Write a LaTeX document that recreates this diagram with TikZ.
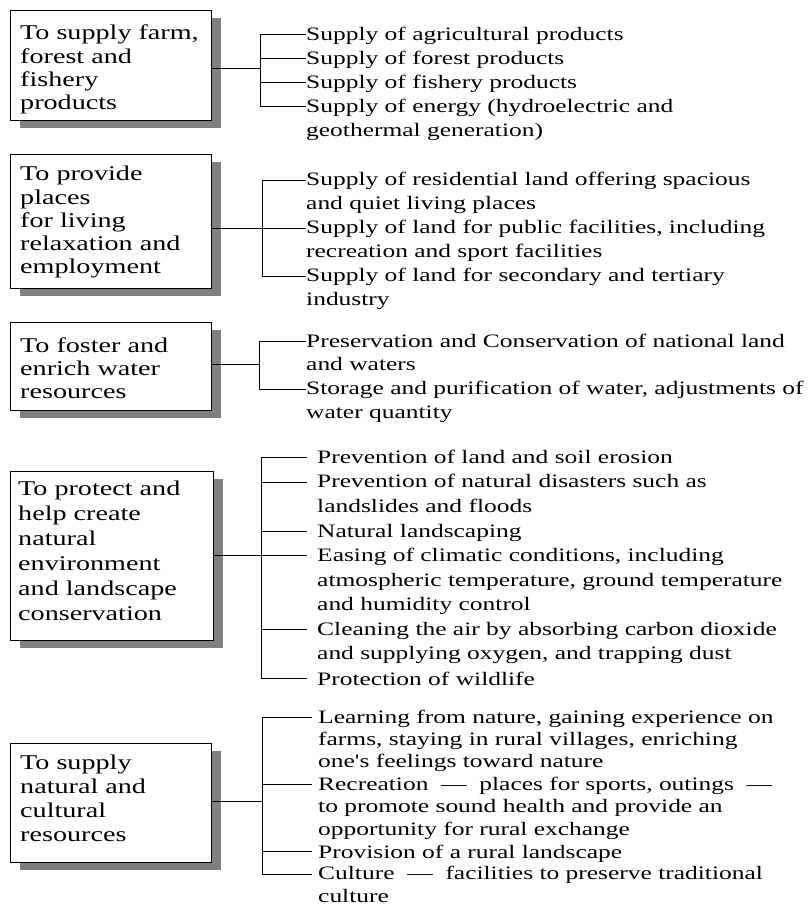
\documentclass[tikz,border=0pt]{standalone}
\usepackage{fontspec}
\setmainfont{Liberation Serif}[FakeStretch=1.34, Ligatures=TeXOff]
\usetikzlibrary{shadows}
\tikzset{
  box/.style={draw=black, line width=0.9pt, fill=white, anchor=north west, inner sep=0pt,
    drop shadow={shadow xshift=10pt, shadow yshift=-8pt, fill=black!50, opacity=1}},
  boxtext/.style={anchor=north west, align=left, inner sep=0pt,
    execute at begin node={\rule{0pt}{17pt}}},
  item/.style={anchor=north west, align=left, inner sep=0pt,
    execute at begin node={\rule{0pt}{14pt}}},
  link/.style={line width=0.9pt, black},
}
\newcommand{\bfnt}[1]{\fontsize{21}{#1}\selectfont}
\newcommand{\ifnt}[1]{\fontsize{19}{#1}\selectfont}
% branch: #1 junction, #2 item node, #3 gap before text
\newcommand{\branch}[3]{%
  \coordinate (#2p) at ([xshift=-#3pt,yshift=-8pt]#2.north west);
  \draw[link] (#1 |- #2p) -- (#2p);}
\begin{document}
\begin{tikzpicture}[x=1pt, y=-1pt]
\useasboundingbox (0,0) rectangle (808,905);

% ---------- Box 1 ----------
\node[box, minimum width=201pt, minimum height=110pt] (B1) at (10,10) {};
\node[boxtext, font=\bfnt{23.3}] (T1) at (20,25) {To supply farm,\\forest and\\fishery\\products};
\node[item, font=\ifnt{24}] (I11) at (306,26.5) {Supply of agricultural products};
\node[item, font=\ifnt{24}] (I12) at (306,50.5) {Supply of forest products};
\node[item, font=\ifnt{24}] (I13) at (306,74.5) {Supply of fishery products};
\node[item, font=\ifnt{24}] (I14) at (306,98.5) {Supply of energy (hydroelectric and\\geothermal generation)};
\coordinate (J1) at (260,68);
\draw[link] (J1 -| B1.east) -- (J1);
\branch{J1}{I11}{0}\branch{J1}{I12}{0}\branch{J1}{I13}{0}\branch{J1}{I14}{0}
\draw[link] (J1 |- I11p) -- (J1 |- I14p);

% ---------- Box 2 ----------
\node[box, minimum width=201pt, minimum height=134pt] (B2) at (10,154) {};
\node[boxtext, font=\bfnt{23.25}] (T2) at (20,166) {To provide\\places\\for living\\relaxation and\\employment};
\node[item, font=\ifnt{24}] (I21) at (306,172) {Supply of residential land offering spacious\\and quiet living places};
\node[item, font=\ifnt{24}] (I22) at (306,220) {Supply of land for public facilities, including\\recreation and sport facilities};
\node[item, font=\ifnt{24}] (I23) at (306,268) {Supply of land for secondary and tertiary\\industry};
\coordinate (J2) at (262,228);
\draw[link] (J2 -| B2.east) -- (J2);
\branch{J2}{I21}{0}\branch{J2}{I22}{0}\branch{J2}{I23}{0}
\draw[link] (J2 |- I21p) -- (J2 |- I23p);

% ---------- Box 3 ----------
\node[box, minimum width=201pt, minimum height=88pt] (B3) at (10,322) {};
\node[boxtext, font=\bfnt{23}] (T3) at (20,338) {To foster and\\enrich water\\resources};
\node[item, font=\ifnt{23.7}] (I31) at (306,333.5) {Preservation and Conservation of national land\\and waters};
\node[item, font=\ifnt{23.7}] (I32) at (306,381) {Storage and purification of water, adjustments of\\water quantity};
\coordinate (J3) at (259,364);
\draw[link] (J3 -| B3.east) -- (J3);
\branch{J3}{I31}{0}\branch{J3}{I32}{0}
\draw[link] (J3 |- I31p) -- (J3 |- I32p);

% ---------- Box 4 ----------
\node[box, minimum width=203pt, minimum height=169pt] (B4) at (10,471) {};
\node[boxtext, font=\bfnt{25}] (T4) at (18,480.5) {To protect and\\help create\\natural\\environment\\and landscape\\conservation};
\node[item, font=\ifnt{24.6}] (I41) at (317,449.5) {Prevention of land and soil erosion};
\node[item, font=\ifnt{24.6}] (I42) at (317,474.1) {Prevention of natural disasters such as\\landslides and floods};
\node[item, font=\ifnt{24.6}] (I43) at (317,523.3) {Natural landscaping};
\node[item, font=\ifnt{24.6}] (I44) at (317,547.9) {Easing of climatic conditions, including\\atmospheric temperature, ground temperature\\and humidity control};
\node[item, font=\ifnt{24.6}] (I45) at (317,621.7) {Cleaning the air by absorbing carbon dioxide\\and supplying oxygen, and trapping dust};
\node[item, font=\ifnt{24.6}] (I46) at (317,670.9) {Protection of wildlife};
\coordinate (J4) at (261,555.9);
\draw[link] (J4 -| B4.east) -- (J4);
\branch{J4}{I41}{10}\branch{J4}{I42}{10}\branch{J4}{I43}{10}\branch{J4}{I44}{10}\branch{J4}{I45}{10}\branch{J4}{I46}{10}
\draw[link] (J4 |- I41p) -- (J4 |- I46p);

% ---------- Box 5 ----------
\node[box, minimum width=201pt, minimum height=119pt] (B5) at (10,743) {};
\node[boxtext, font=\bfnt{24}] (T5) at (20,755) {To supply\\natural and\\cultural\\resources};
\node[item, font=\ifnt{22.4}] (I51) at (318,709.5) {Learning from nature, gaining experience on\\farms, staying in rural villages, enriching\\one's feelings toward nature};
\node[item, font=\ifnt{22.4}] (I52) at (318,776.7) {Recreation \ — \ places for sports, outings \ —\\to promote sound health and provide an\\opportunity for rural exchange};
\node[item, font=\ifnt{22.4}] (I53) at (318,843.9) {Provision of a rural landscape};
\node[item, font=\ifnt{22.4}] (I54) at (318,866.3) {Culture \ — \ facilities to preserve traditional\\culture};
\coordinate (J5) at (262,801);
\draw[link] (J5 -| B5.east) -- (J5);
\branch{J5}{I51}{6}\branch{J5}{I52}{6}\branch{J5}{I53}{6}\branch{J5}{I54}{6}
\draw[link] (J5 |- I51p) -- (J5 |- I54p);
\end{tikzpicture}
\end{document}
